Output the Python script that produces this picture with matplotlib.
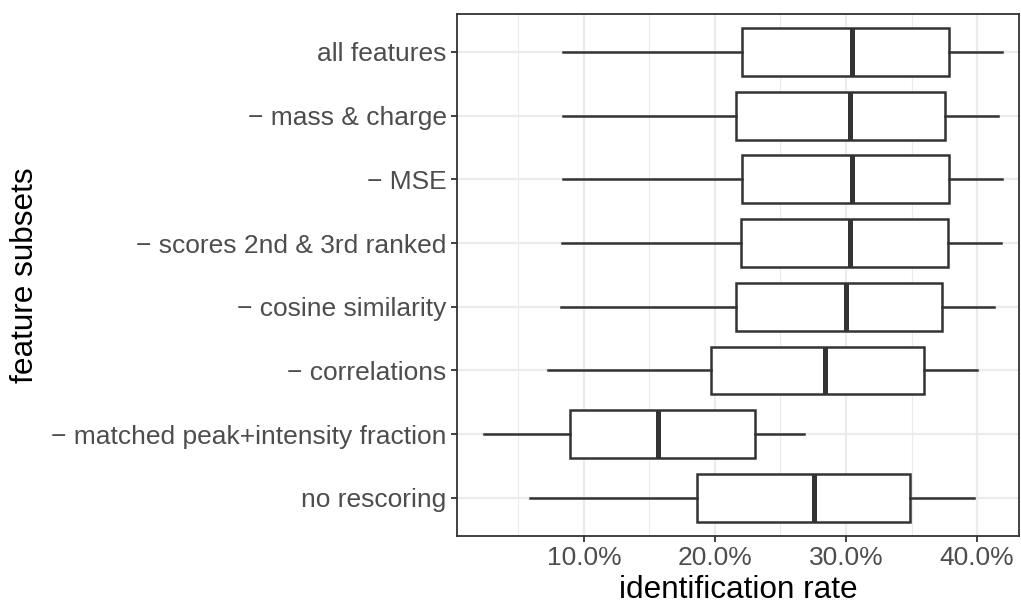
import matplotlib
matplotlib.use("Agg")
import matplotlib.pyplot as plt
from matplotlib.ticker import FixedLocator, FuncFormatter

plt.rcParams['font.family'] = ['Liberation Sans', 'DejaVu Sans']

# feature subsets, top to bottom
subsets = [
    "all features",
    "\u2212 mass & charge",
    "\u2212 MSE",
    "\u2212 scores 2nd & 3rd ranked",
    "\u2212 cosine similarity",
    "\u2212 correlations",
    "\u2212 matched peak+intensity fraction",
    "no rescoring",
]

# identification rate (%) summary per subset
whisker_low = [8.42, 8.42, 8.42, 8.36, 8.22, 7.26, 2.34, 5.9]
q1 = [22.09, 21.6, 22.03, 21.95, 21.6, 19.69, 8.9, 18.64]
median = [30.45, 30.3, 30.45, 30.31, 30.0, 28.39, 15.62, 27.54]
q3 = [37.85, 37.57, 37.85, 37.77, 37.3, 35.93, 23.08, 34.9]
whisker_high = [41.9, 41.6, 41.9, 41.8, 41.3, 40.03, 26.78, 39.8]

major_ticks = [10, 20, 30, 40]
minor_ticks = [5, 15, 25, 35]

fig = plt.figure(figsize=(10.21, 6.04), dpi=100)
ax = fig.add_axes([0.4476, 0.1126, 0.5504, 0.8647])

n = len(subsets)
positions = list(range(n, 0, -1))
stats = []
for i in range(n):
    stats.append(dict(whislo=whisker_low[i], q1=q1[i], med=median[i],
                      q3=q3[i], whishi=whisker_high[i], fliers=[]))

line_col = "#333333"
ax.bxp(stats, positions=positions, vert=False, widths=0.75,
       showcaps=False, patch_artist=True, manage_ticks=False,
       boxprops=dict(facecolor="white", edgecolor=line_col, linewidth=1.8),
       whiskerprops=dict(color=line_col, linewidth=1.8),
       medianprops=dict(color=line_col, linewidth=3.6, solid_capstyle="butt"),
       zorder=3)

ax.set_xlim(0.31, 43.2)
ax.set_ylim(0.4, n + 0.6)

ax.xaxis.set_major_locator(FixedLocator(major_ticks))
ax.xaxis.set_minor_locator(FixedLocator(minor_ticks))
ax.xaxis.set_major_formatter(FuncFormatter(lambda v, p: f"{v:.1f}%"))
ax.set_yticks(positions)
ax.set_yticklabels(subsets)

ax.grid(True, which="major", color="#EBEBEB", linewidth=1.6, zorder=0)
ax.grid(True, which="minor", axis="x", color="#EBEBEB", linewidth=0.8, zorder=0)
ax.set_axisbelow(True)

for s in ax.spines.values():
    s.set_color(line_col)
    s.set_linewidth(1.3)

ax.tick_params(axis="both", which="major", length=4.5, width=1.3,
               color=line_col, labelcolor="#4D4D4D", labelsize=19, pad=3)
ax.tick_params(axis="x", which="minor", length=0)

ax.set_xlabel("identification rate", fontsize=22.7, color="black", labelpad=3)
ax.set_ylabel("feature subsets", fontsize=22.7, color="black", labelpad=8)

fig.savefig("out.png", dpi=100)
